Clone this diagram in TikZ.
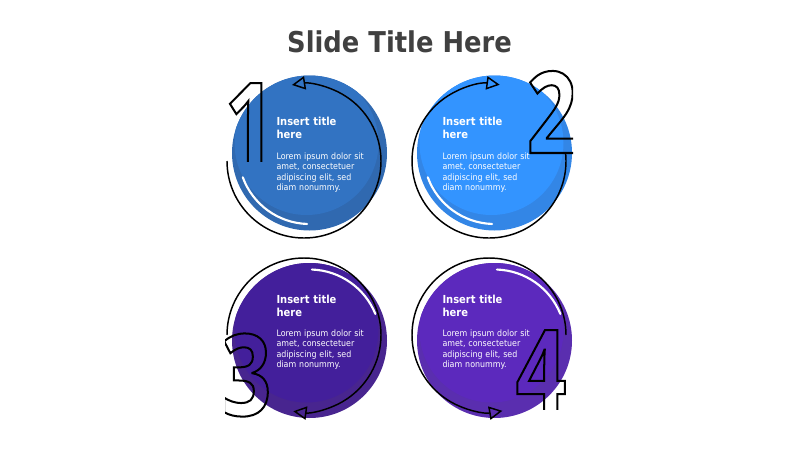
\documentclass[tikz,border=0pt]{standalone}
\usepackage{fontspec}
\setmainfont[FakeStretch=0.9]{DejaVu Sans}
\newfontfamily\digitfont[FakeStretch=0.78]{Open Sans}
\usetikzlibrary{arrows.meta}

\definecolor{blueOneLight}{HTML}{3273C2}
\definecolor{blueOneDark}{HTML}{3069B0}
\definecolor{blueTwoLight}{HTML}{3394FF}
\definecolor{blueTwoDark}{HTML}{3386E6}
\definecolor{purpleThreeLight}{HTML}{431F9B}
\definecolor{purpleThreeDark}{HTML}{48258F}
\definecolor{purpleFourLight}{HTML}{5C29BD}
\definecolor{purpleFourDark}{HTML}{5A2EAF}
\definecolor{titleGray}{HTML}{404040}

% stroke the glyph outline only (text render mode 1)
\newcommand{\outlinedigit}[1]{\special{pdf:literal 1 Tr 1.5 w}#1\special{pdf:literal 0 Tr}}

\tikzset{every picture/.style={line width=0.75pt}}
\tikzset{
  loop arc/.style={draw=black, line width=1.1pt, -{Triangle[open,length=10pt,width=10pt]}},
  shine arc/.style={draw=white, line width=1.6pt, line cap=round},
  card title/.style={anchor=base west, inner sep=0pt, text width=80pt, align=left, text=white, font=\bfseries\fontsize{8.3}{10.1}\selectfont},
  card body/.style={anchor=base west, inner sep=0pt, text width=80pt, align=left, text=white, font=\fontsize{6.6}{7.9}\selectfont},
  big digit/.style={anchor=base, inner sep=0pt, text=black, font=\digitfont\bfseries\fontsize{85}{85}\selectfont}
}

\begin{document}
\begin{tikzpicture}[x=0.75pt,y=0.75pt,yscale=-1,xscale=1]
	\path [use as bounding box] (0,0) rectangle (800,450);
	
	%Text: slide title
	\node [font=\bfseries\fontsize{21.5}{26}\selectfont, text=titleGray, anchor=base] (slidetitle) at (399.5,52) {Slide Title Here};
	
	%Shape: Circle 1
	\coordinate (f1) at (309.5,153);
	\coordinate (o1) at (304,161);
	\fill [blueOneDark] (f1) circle (77.5);
	\begin{scope}
		\clip (f1) circle (77.5);
		\fill [blueOneLight] ([shift={(-3,-10)}]f1) circle (72);
	\end{scope}
	\draw [shine arc] (f1) ++(-200:71) arc (-200:-268:71);
	\node [card title] (head1) at (276,125.5) {Insert title\\here};
	\node [card body] (body1) at (276,159) {Lorem ipsum dolor sit\\amet, consectetuer\\adipiscing elit, sed\\diam nonummy.};
	\draw [loop arc] (o1) ++(-180:77) arc (-180:-459:77);
	\begin{scope}
		\clip (200,60) rectangle (300,161);
		\node [big digit] (num1) at (250,164) {\outlinedigit{1}};
	\end{scope}
	
	%Shape: Circle 2
	\coordinate (f2) at (494.5,153);
	\coordinate (o2) at (489,161);
	\fill [blueTwoDark] (f2) circle (77.5);
	\begin{scope}
		\clip (f2) circle (77.5);
		\fill [blueTwoLight] ([shift={(-3,-10)}]f2) circle (72);
	\end{scope}
	\draw [shine arc] (f2) ++(-200:71) arc (-200:-268:71);
	\node [card title] (head2) at (442,125.5) {Insert title\\here};
	\node [card body] (body2) at (442,159) {Lorem ipsum dolor sit\\amet, consectetuer\\adipiscing elit, sed\\diam nonummy.};
	\draw [loop arc] (o2) ++(-6:77) arc (-6:278:77);
	\begin{scope}
		\clip (500,50) rectangle (573,160);
		\node [big digit] (num2) at (552,153) {\outlinedigit{2}};
	\end{scope}
	
	%Shape: Circle 3
	\coordinate (f3) at (309.5,340.5);
	\coordinate (o3) at (304,335);
	\fill [purpleThreeDark] (f3) circle (77.5);
	\begin{scope}
		\clip (f3) circle (77.5);
		\fill [purpleThreeLight] ([shift={(-3,-10)}]f3) circle (72);
	\end{scope}
	\draw [shine arc] (f3) ++(-88:71) arc (-88:-22:71);
	\node [card title] (head3) at (276,303) {Insert title\\here};
	\node [card body] (body3) at (276,336) {Lorem ipsum dolor sit\\amet, consectetuer\\adipiscing elit, sed\\diam nonummy.};
	\draw [loop arc] (o3) ++(-180:77) arc (-180:98:77);
	\begin{scope}
		\clip (225,310) rectangle (300,430);
		\node [big digit] (num3) at (246,415.5) {\outlinedigit{3}};
	\end{scope}
	
	%Shape: Circle 4
	\coordinate (f4) at (494.5,340.5);
	\coordinate (o4) at (489,335);
	\fill [purpleFourDark] (f4) circle (77.5);
	\begin{scope}
		\clip (f4) circle (77.5);
		\fill [purpleFourLight] ([shift={(-3,-10)}]f4) circle (72);
	\end{scope}
	\draw [shine arc] (f4) ++(-88:71) arc (-88:-22:71);
	\node [card title] (head4) at (442,303) {Insert title\\here};
	\node [card body] (body4) at (442,336) {Lorem ipsum dolor sit\\amet, consectetuer\\adipiscing elit, sed\\diam nonummy.};
	\draw [loop arc] (o4) ++(0:77) arc (0:-280:77);
	\begin{scope}
		\clip (500,310) rectangle (600,409);
		\node [big digit] (num4) at (541,411) {\outlinedigit{4}};
	\end{scope}
	
\end{tikzpicture}
\end{document}
